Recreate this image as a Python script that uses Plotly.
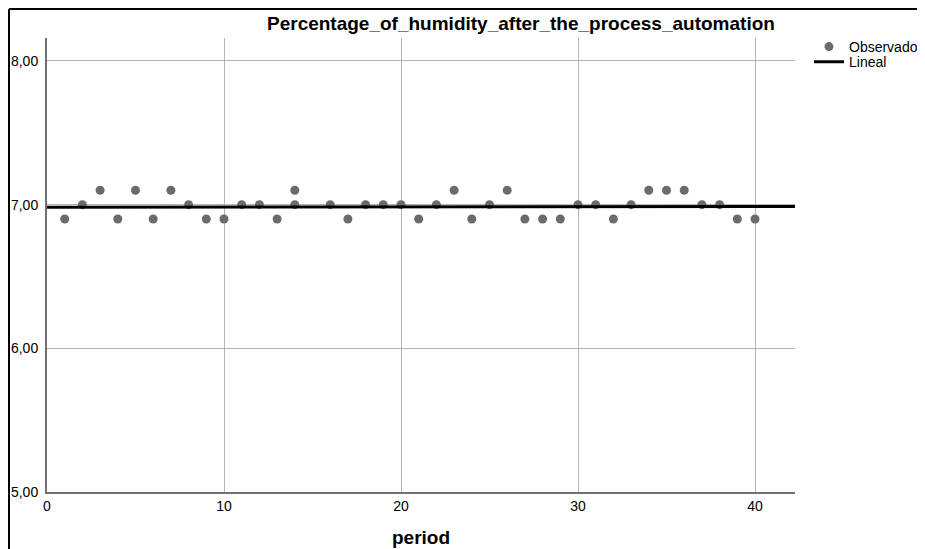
import numpy as np
import plotly.graph_objects as go

title_text = "Percentage_of_humidity_after_the_process_automation"
x_label = "period"

period = [1, 2, 3, 4, 5, 6, 7, 8, 9, 10, 11, 12, 13, 14, 14, 16, 17, 18, 19, 20,
          21, 22, 23, 24, 25, 26, 27, 28, 29, 30, 31, 32, 33, 34, 35, 36, 37, 38, 39, 40]
humidity = [6.9, 7.0, 7.1, 6.9, 7.1, 6.9, 7.1, 7.0, 6.9, 6.9, 7.0, 7.0, 6.9, 7.1, 7.0,
            7.0, 6.9, 7.0, 7.0, 7.0, 6.9, 7.0, 7.1, 6.9, 7.0, 7.1, 6.9, 6.9, 6.9, 7.0,
            7.0, 6.9, 7.0, 7.1, 7.1, 7.1, 7.0, 7.0, 6.9, 6.9]

y_tickvals = [5, 6, 7, 8]
y_ticktext = ["5,00", "6,00", "7,00", "8,00"]
x_tickvals = [0, 10, 20, 30, 40]

x_range = [0, 42.26]
y_range = [5, 8.16]

slope, intercept = np.polyfit(period, humidity, 1)
fit_x = np.array(x_range)
fit_y = intercept + slope * fit_x

FONT = "Arial, Liberation Sans, sans-serif"

fig = go.Figure()
fig.add_trace(go.Scatter(
    x=period, y=humidity, mode="markers", name="Observado",
    marker=dict(color="#6b6b6b", size=9, line=dict(width=0)),
    cliponaxis=False, legend="legend",
))
fig.add_trace(go.Scatter(
    x=fit_x, y=fit_y, mode="lines", name="Lineal",
    line=dict(color="#000000", width=3), legend="legend2",
))

legend_common = dict(
    xanchor="left", yanchor="top",
    font=dict(family=FONT, size=14, color="#000000"),
    bgcolor="rgba(0,0,0,0)", itemwidth=30, tracegroupgap=0,
)

fig.update_layout(
    width=917, height=541,
    margin=dict(l=39, r=130, t=30, b=57, autoexpand=False),
    paper_bgcolor="white", plot_bgcolor="white",
    font=dict(family=FONT, size=14, color="#000000"),
    showlegend=True,
    legend=dict(x=1.0187, y=1.0154, **legend_common),
    legend2=dict(x=1.0187, y=0.982, **legend_common),
    xaxis=dict(
        range=x_range, tickvals=x_tickvals, showgrid=True, gridcolor="#b4b4b4",
        gridwidth=1, zeroline=False, showline=True, linecolor="#707070", linewidth=2,
        ticks="", tickfont=dict(family=FONT, size=14, color="#000000"),
        automargin=False, fixedrange=True,
    ),
    yaxis=dict(
        range=y_range, tickvals=y_tickvals, ticktext=y_ticktext, showgrid=True,
        gridcolor="#b4b4b4", gridwidth=1, zeroline=False, showline=True,
        linecolor="#707070", linewidth=2, ticks="", ticklabelstandoff=4,
        tickfont=dict(family=FONT, size=14, color="#000000"),
        automargin=False, fixedrange=True,
    ),
    annotations=[
        dict(
            text="<b>" + title_text + "</b>", xref="paper", yref="paper",
            x=0.634, y=1.031, xanchor="center", yanchor="middle", showarrow=False,
            font=dict(family=FONT, size=19, color="#000000"),
        ),
        dict(
            text="<b>" + x_label + "</b>", xref="paper", yref="paper",
            x=0.5, y=-0.1013, xanchor="center", yanchor="middle", showarrow=False,
            font=dict(family=FONT, size=19, color="#000000"),
        ),
    ],
    shapes=[
        dict(type="line", xref="paper", yref="paper", x0=-0.0508, x1=1.2, y0=1.0639, y1=1.0639,
             line=dict(color="#000000", width=2)),
        dict(type="line", xref="paper", yref="paper", x0=-0.0508, x1=-0.0508, y0=1.0639, y1=-0.2,
             line=dict(color="#000000", width=2)),
    ],
)

fig.write_html("out.html")
